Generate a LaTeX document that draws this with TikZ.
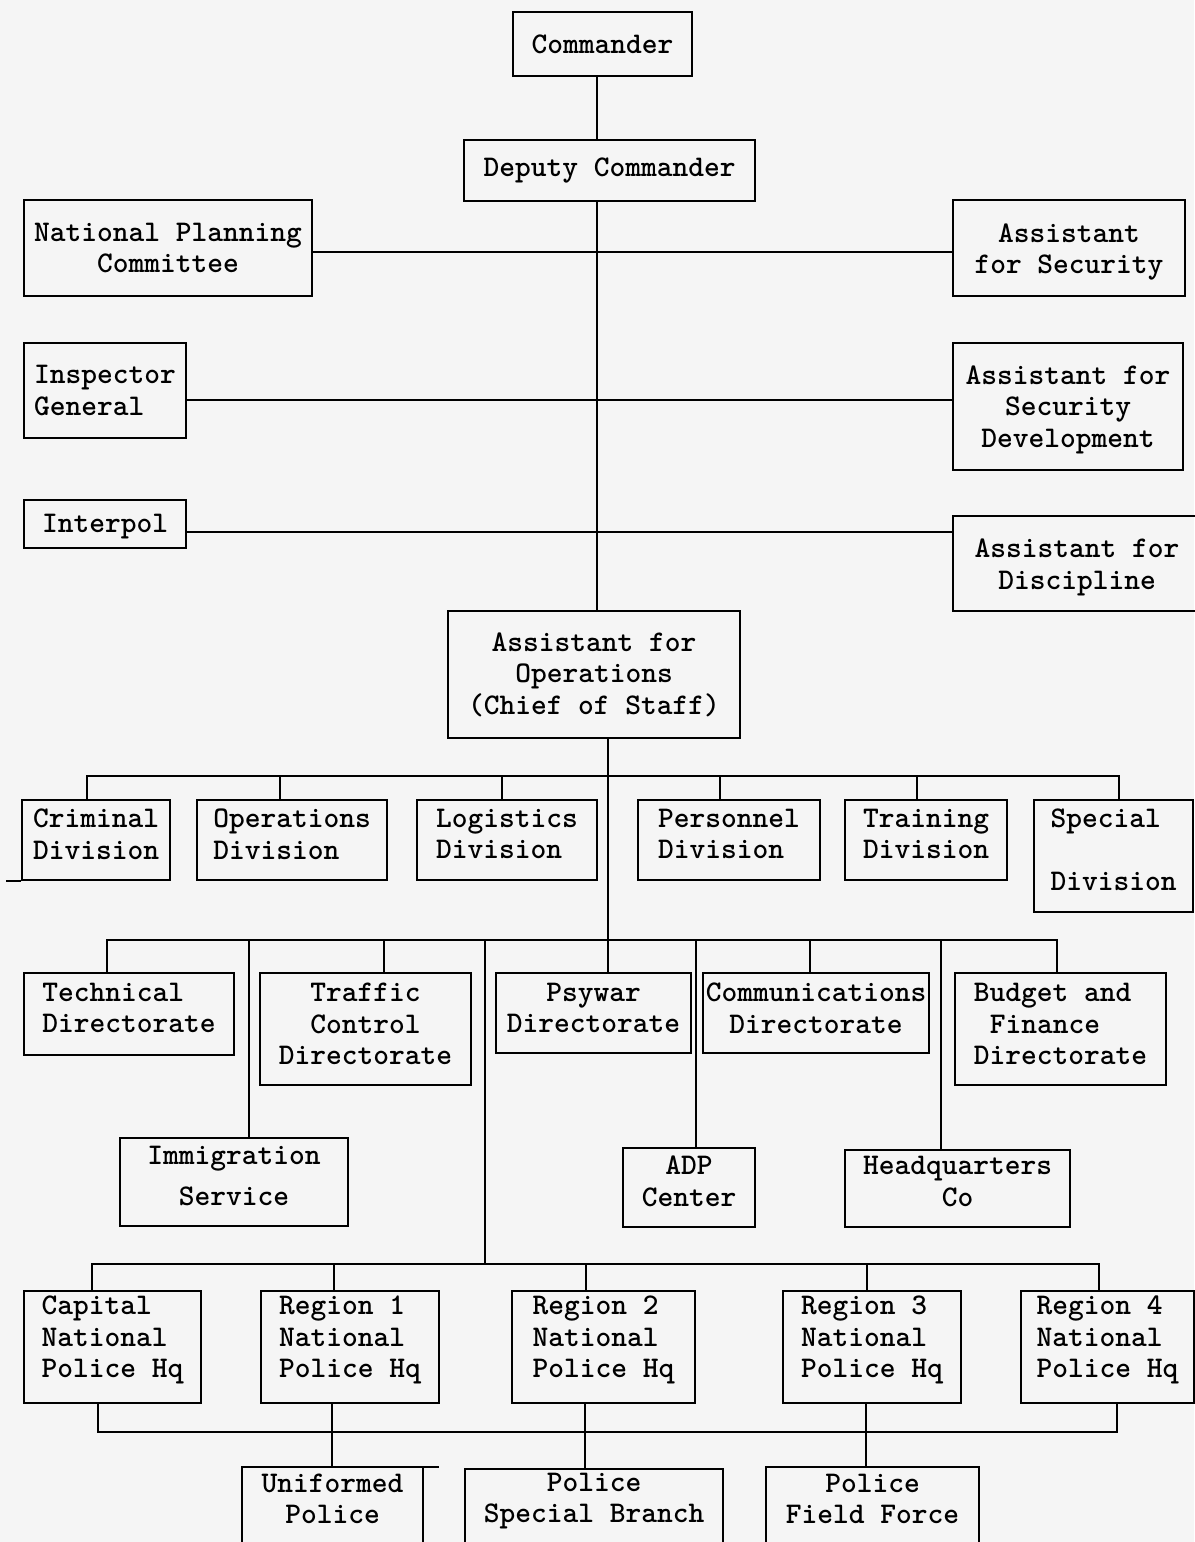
\documentclass[tikz,border=0pt]{standalone}
\begin{document}
\begin{tikzpicture}[x=1pt,y=-1pt,
  every node/.style={font=\fontsize{30}{31.5}\selectfont\ttfamily\bfseries},
  box/.style={draw, line width=2pt, inner sep=0pt},
  dims/.style 2 args={minimum width=#1pt, minimum height=#2pt},
  lc/.style={align=center, inner sep=0pt},
  ll/.style={align=left, inner sep=0pt},
  sh/.style={yshift=#1pt},
  openbox/.style={inner sep=0pt, align=center, minimum height=64pt},
  conn/.style={line width=2pt}]
% page area and paper tone
\useasboundingbox (0,0) rectangle (1194,1542);
\fill[white!96!black] (0,0) rectangle (1194,1542);

% command staff
\node[box,dims={179}{64},label={[lc]center:Commander}] (cmd) at (602.5,44) {};
\node[box,dims={291}{61},label={[lc]center:{Deputy Commander}}] (dep) at (609.5,170.5) {};
\node[box,dims={288}{96},label={[lc]center:{National Planning\\Committee}}] (npc) at (168,248) {};
\node[box,dims={232}{96},label={[lc,sh=-4]center:{Assistant\\for Security}}] (asec) at (1069,248) {};
\node[box,dims={162}{95},label={[ll]center:{Inspector\\General}}] (ig) at (105,390.5) {};
\node[box,dims={230}{127},label={[lc,sh=-3]center:{Assistant for\\Security\\Development}}] (asd) at (1068,406.5) {};
\node[box,dims={162}{48},label={[ll,sh=-3]center:Interpol}] (intp) at (105,524) {};
\node[box,dims={248}{95},label={[lc,sh=-4]center:{Assistant for\\Discipline}}] (adis) at (1077,563.5) {};
\node[box,dims={292}{127},label={[lc]center:{Assistant for\\Operations\\(Chief of Staff)}}] (afo) at (594,674.5) {};

% divisions
\node[box,dims={148}{80},label={[ll,sh=6]center:{Criminal\\Division}}] (crim) at (96,840) {};
\node[box,dims={190}{80},label={[ll,sh=6]center:{Operations\\Division}}] (opsd) at (292,840) {};
\node[box,dims={180}{80},label={[ll,sh=6]center:{Logistics\\Division}}] (logd) at (507,840) {};
\node[box,dims={182}{80},label={[ll,sh=6]center:{Personnel\\Division}}] (perd) at (729,840) {};
\node[box,dims={162}{80},label={[ll,sh=6]center:{Training\\Division}}] (trnd) at (926,840) {};
\node[box,dims={159}{112},label={[ll,sh=6]center:{Special\\[31.5pt]Division}}] (spcd) at (1113.5,856) {};

% directorates and services
\node[box,dims={210}{82},label={[ll,sh=6]center:{Technical\\Directorate}}] (tech) at (129,1014) {};
\node[box,dims={211}{112},label={[lc,sh=5]center:{Traffic\\Control\\Directorate}}] (traf) at (365.5,1029) {};
\node[box,dims={195}{80},label={[lc,sh=5]center:{Psywar\\Directorate}}] (psy) at (593.5,1013) {};
\node[box,dims={226}{80},label={[lc,sh=5]center:{Communications\\Directorate}}] (comm) at (816,1013) {};
\node[box,dims={211}{112},label={[ll,sh=5]center:{Budget and\\\hspace*{16pt}Finance\\Directorate}}] (bud) at (1060.5,1029) {};
\node[box,dims={228}{88},label={[lc,sh=6]center:{Immigration\\[9pt]Service}}] (imm) at (234,1182) {};
\node[box,dims={132}{79},label={[lc,sh=6]center:{ADP\\Center}}] (adp) at (689,1187.5) {};
\node[box,dims={225}{77},label={[lc,sh=7]center:{Headquarters\\Co}}] (hqco) at (957.5,1188.5) {};

% regional headquarters
\node[box,dims={177}{112},label={[ll,sh=7]center:{Capital\\National\\Police Hq}}] (cap) at (112.5,1347) {};
\node[box,dims={178}{112},label={[ll,sh=7]center:{Region 1\\National\\Police Hq}}] (r1) at (350,1347) {};
\node[box,dims={183}{112},label={[ll,sh=7]center:{Region 2\\National\\Police Hq}}] (r2) at (603.5,1347) {};
\node[box,dims={178}{112},label={[ll,sh=7]center:{Region 3\\National\\Police Hq}}] (r3) at (872,1347) {};
\node[box,dims={173}{112},label={[ll,sh=7]center:{Region 4\\National\\Police Hq}}] (r4) at (1107.5,1347) {};

% police forces (boxes run off the lower edge)
\node[openbox,minimum width=181pt] (unif) at (332.5,1499) {Uniformed\\Police};
\node[openbox,minimum width=258pt] (psb) at (594,1501) {Police\\Special Branch};
\node[openbox,minimum width=213pt] (pff) at (872.5,1499) {Police\\Field Force};
\foreach \n in {unif,psb,pff}
  \draw[conn] ([yshift=-30pt]\n.south west) -- (\n.north west) -- (\n.north east) -- ([yshift=-30pt]\n.south east);
\draw[conn] (unif.north east) -- ++(16,0);
\draw[conn] (crim.south west) -- ++(-15,0);

% bus levels and spine positions
\coordinate (sx) at (597,0);
\coordinate (sx2) at (608,0);
\coordinate (dbus) at (0,776);
\coordinate (rbus) at (0,1264);
\coordinate (lbus) at (0,1432);
\coordinate (j1) at (485,940);
\coordinate (j2) at (485,1264);

% command chain
\draw[conn] (cmd.south -| sx) -- (dep.north -| sx);
\draw[conn] (dep.south -| sx) -- (afo.north -| sx);
\draw[conn] ([yshift=-4pt]npc.east) -- ([yshift=-4pt]npc.east -| asec.west);
\draw[conn] ([yshift=-9.5pt]ig.east) -- ([yshift=-9.5pt]ig.east -| asd.west);
\draw[conn] ([yshift=-8pt]intp.east) -- ([yshift=-8pt]intp.east -| adis.west);
\draw[conn] (afo.south -| sx2) -- (psy.north -| sx2);

% divisions bus
\draw[conn] ([xshift=-9pt]crim.north) |- ([xshift=5.5pt]spcd.north |- dbus) -- ([xshift=5.5pt]spcd.north);
\foreach \n/\dx in {opsd/-12, logd/-5, perd/-9, trnd/-9}
  \draw[conn] ([xshift=\dx pt]\n.north) -- ([xshift=\dx pt]\n.north |- dbus);

% directorates bus
\draw[conn] ([xshift=-22pt]tech.north) |- ([xshift=-3.5pt]bud.north |- j1) -- ([xshift=-3.5pt]bud.north);
\foreach \n/\dx in {traf/18.5, comm/-6}
  \draw[conn] ([xshift=\dx pt]\n.north) -- ([xshift=\dx pt]\n.north |- j1);
\foreach \n/\dx in {imm/15, adp/7, hqco/-16.5}
  \draw[conn] ([xshift=\dx pt]\n.north) -- ([xshift=\dx pt]\n.north |- j1);
\draw[conn] (j1) -- (j2);

% regions bus
\draw[conn] ([xshift=-20.5pt]cap.north) |- ([xshift=-8.5pt]r4.north |- rbus) -- ([xshift=-8.5pt]r4.north);
\foreach \n/\dx in {r1/-16, r2/-17.5, r3/-5}
  \draw[conn] ([xshift=\dx pt]\n.north) -- ([xshift=\dx pt]\n.north |- rbus);

% lower link between regional headquarters and forces
\draw[conn] ([xshift=-14.5pt]cap.south) |- ([xshift=9.5pt]r4.south |- lbus) -- ([xshift=9.5pt]r4.south);
\draw[conn] ([xshift=-18pt]r1.south) -- ([xshift=-18pt]r1.south |- unif.north);
\draw[conn] ([xshift=-18.5pt]r2.south) -- ([xshift=-18.5pt]r2.south |- psb.north);
\draw[conn] ([xshift=-6pt]r3.south) -- ([xshift=-6pt]r3.south |- pff.north);
\end{tikzpicture}
\end{document}
